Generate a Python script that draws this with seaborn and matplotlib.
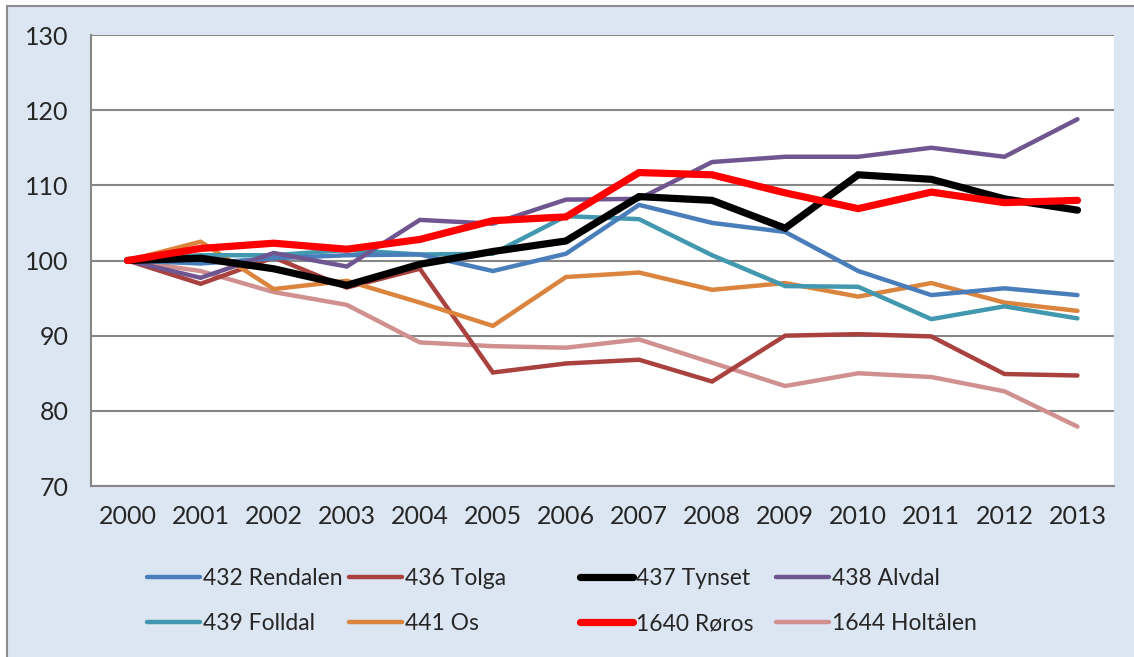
import matplotlib
matplotlib.use('Agg')
import matplotlib.pyplot as plt
import seaborn as sns
import pandas as pd
from matplotlib.patches import Rectangle

# data
years = [2000, 2001, 2002, 2003, 2004, 2005, 2006, 2007, 2008, 2009, 2010, 2011, 2012, 2013]
rendalen = [100, 99.6, 100.3, 100.7, 100.8, 98.6, 100.9, 107.4, 105.0, 103.8, 98.6, 95.4, 96.3, 95.4]
tolga = [100, 96.9, 100.4, 96.4, 98.9, 85.1, 86.3, 86.8, 83.9, 90.0, 90.2, 89.9, 84.9, 84.7]
tynset = [100, 100.3, 98.9, 96.7, 99.5, 101.2, 102.6, 108.5, 108.0, 104.3, 111.4, 110.8, 108.2, 106.7]
alvdal = [100, 97.7, 101.0, 99.2, 105.4, 104.9, 108.1, 108.2, 113.1, 113.8, 113.8, 115.0, 113.8, 118.8]
folldal = [100, 100.7, 100.7, 101.4, 100.8, 100.9, 105.9, 105.5, 100.7, 96.6, 96.5, 92.2, 93.9, 92.3]
os_ = [100, 102.5, 96.2, 97.3, 94.4, 91.3, 97.8, 98.4, 96.1, 97.0, 95.2, 97.0, 94.4, 93.3]
roros = [100, 101.6, 102.3, 101.5, 102.8, 105.3, 105.8, 111.7, 111.4, 109.0, 106.9, 109.1, 107.7, 108.0]
holtalen = [100, 98.6, 95.8, 94.1, 89.1, 88.6, 88.4, 89.5, 86.4, 83.3, 85.0, 84.5, 82.6, 77.9]

names = ['432 Rendalen', '436 Tolga', '437 Tynset', '438 Alvdal',
         '439 Folldal', '441 Os', '1640 Røros', '1644 Holtålen']
series = [rendalen, tolga, tynset, alvdal, folldal, os_, roros, holtalen]
colors = ['#4A7EBB', '#A9413F', '#000000', '#6F5690',
          '#4198AF', '#DB843D', '#FF0000', '#D09090']
widths = [3.2, 3.2, 5.2, 3.2, 3.2, 3.2, 5.2, 3.2]
# drawing order (red on top)
order = [7, 1, 5, 4, 0, 3, 2, 6]

rows = []
for n, s in zip(names, series):
    for i, v in enumerate(s):
        rows.append({'idx': i, 'kommune': n, 'verdi': v})
df = pd.DataFrame(rows)

sns.set_style('white')
plt.rcParams['font.family'] = ['Lato', 'DejaVu Sans']

fig = plt.figure(figsize=(11.34, 6.57), dpi=100)
fig.patches.append(Rectangle((7/1134, -0.01), 1.0, 1 - 6/657 + 0.01,
                             transform=fig.transFigure, facecolor='#DCE6F2',
                             edgecolor='#8C8C8C', linewidth=1.5, zorder=-10))

ax = fig.add_axes([91/1134, 1 - 486/657, (1114 - 91)/1134, (486 - 35)/657])
ax.set_facecolor('white')

for k in order:
    sub = df[df['kommune'] == names[k]]
    sns.lineplot(data=sub, x='idx', y='verdi', color=colors[k], linewidth=widths[k],
                 ax=ax, solid_capstyle='round', solid_joinstyle='miter', zorder=3 + order.index(k))

ax.set_xlim(-0.5, 13.5)
ax.set_ylim(70, 130)
ax.set_yticks(range(70, 131, 10))
ax.set_xticks(range(len(years)))
ax.set_xticklabels([str(y) for y in years])
ax.set_xticks([i - 0.5 for i in range(len(years) + 1)], minor=True)
ax.tick_params(axis='x', which='major', length=0, pad=14, labelsize=18)
ax.tick_params(axis='x', which='minor', length=6, color='#868686', width=1.5, direction='out')
ax.tick_params(axis='y', length=6, color='#868686', width=1.5, direction='out', pad=10, labelsize=18)
ax.yaxis.grid(True, color='#868686', linewidth=1.5)
ax.set_axisbelow(True)
ax.set_xlabel('')
ax.set_ylabel('')
for sp in ['top', 'right']:
    ax.spines[sp].set_visible(False)
for sp in ['left', 'bottom']:
    ax.spines[sp].set_color('#868686')
    ax.spines[sp].set_linewidth(1.5)

# legend: 4 columns placed like the original
col_x = [147, 349, 580, 776]
for c in range(4):
    idx = [c, c + 4]
    handles = [plt.Line2D([], [], color=colors[i], linewidth=widths[i], solid_capstyle='round')
               for i in idx]
    leg = fig.legend(handles, [names[i] for i in idx], loc='center left',
                     bbox_to_anchor=(col_x[c] / 1134, 1 - 601/657),
                     frameon=False, fontsize=16.5, handlelength=2.3, handletextpad=0.15,
                     borderpad=0, borderaxespad=0, labelspacing=1.05)

fig.savefig('out.png', dpi=100, facecolor='white')
